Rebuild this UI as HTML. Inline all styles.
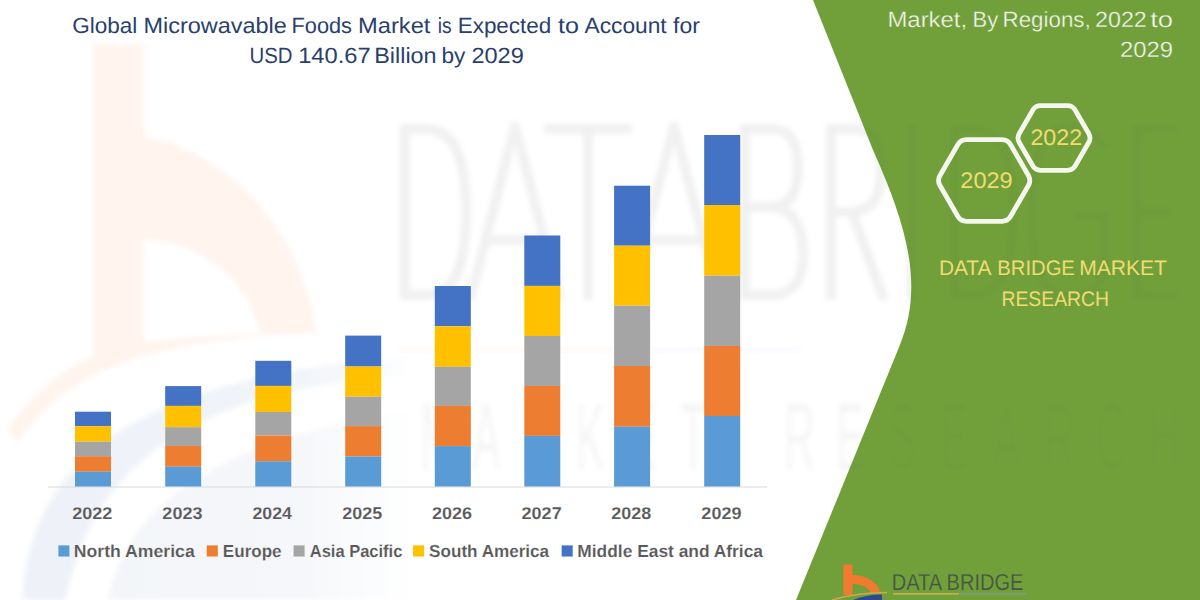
<!DOCTYPE html>
<html><head><meta charset="utf-8"><style>
html,body{margin:0;padding:0;width:1200px;height:600px;overflow:hidden;background:#fff;}
svg{position:absolute;left:0;top:0;display:block;}
text{font-family:"Liberation Sans",sans-serif;text-rendering:geometricPrecision;}
</style></head><body>
<svg width="1200" height="600" viewBox="0 0 1200 600">
<!-- watermark b logo -->
<defs><filter id="bl" x="-10%" y="-10%" width="120%" height="120%"><feGaussianBlur stdDeviation="2.5"/></filter>
<linearGradient id="bg1" x1="0" y1="0" x2="1" y2="0"><stop offset="0" stop-color="#EEF2F8"/><stop offset="0.7" stop-color="#F1F4F9"/><stop offset="1" stop-color="#F1F4F9" stop-opacity="0"/></linearGradient>
<linearGradient id="bg2" x1="0" y1="0" x2="1" y2="0"><stop offset="0" stop-color="#F3F5F9"/><stop offset="0.6" stop-color="#F5F7FA"/><stop offset="1" stop-color="#F5F7FA" stop-opacity="0"/></linearGradient>
</defs>
<g filter="url(#bl)">
<path d="M22 600 C28 480 110 395 330 365 L420 356 V374 L330 384 C150 412 85 500 66 600 Z" fill="url(#bg1)"/>
<path d="M108 600 C125 510 210 440 420 408 V600 Z" fill="url(#bg2)"/>
<path fill-rule="evenodd" d="M93 44 H144 V137 C222 150 300 222 316 333 C230 336 150 348 100 372 C65 390 38 412 18 442 L8 430 C25 400 55 375 93 356 Z M144 240 V342 C180 338 220 335 260 334 C250 282 205 243 144 240 Z" fill="#FFF4EE"/>
</g>
<defs><clipPath id="gp"><path d="M813 0 H1200 V600 H796 L899.5 346 C924 287 908 228 873 150 Z"/></clipPath></defs>
<g fill="none" stroke="#000" stroke-width="10" stroke-linejoin="round" stroke-opacity="0.055" filter="url(#bl)">
<path d="M405 124 V300 M405 129 H425 C458 129 466 165 466 212 C466 259 458 295 425 295 H405"/>
<path d="M470 300 L515 126 L560 300 M486 240 H544"/>
<path d="M544 129 H632 M588 129 V300"/>
<path d="M628 300 L674 126 L720 300 M644 240 H704"/>
<path d="M745 124 V300 M745 129 H772 C792 129 798 145 798 168 C798 192 790 207 768 207 H745 M768 207 C795 207 803 228 803 253 C803 280 795 295 770 295 H745"/>
<path d="M831 124 V300 M831 129 H855 C875 129 881 145 881 170 C881 198 872 212 850 212 H831 M852 212 L884 300"/>
<path d="M912 124 V300"/>
<path d="M955 124 V300 M955 129 H972 C1005 129 1013 165 1013 212 C1013 259 1005 295 972 295 H955"/>
<path d="M1105 150 C1095 133 1083 127 1068 127 C1042 127 1032 160 1032 212 C1032 265 1042 297 1068 297 C1088 297 1105 285 1105 260 V215 H1075"/>
<path d="M1137 124 V300 M1137 129 H1178 M1137 212 H1172 M1137 295 H1178"/>
</g>
<g filter="url(#bl)"><g transform="scale(0.45 1)" fill="#000" fill-opacity="0.04"><text x="933.3 1048.9 1164.4 1280.0 1395.6 1511.1 1742.2 1857.8 1973.3 2088.9 2204.4 2320.0 2435.6 2551.1" y="470" font-size="96" font-family="Liberation Sans">MARKETRESEARCH</text></g></g>
<path d="M813 0 H1200 V600 H796 L899.5 346 C924 287 908 228 873 150 Z" fill="#71A03B"/>
<g clip-path="url(#gp)"><g fill="none" stroke="#000" stroke-width="10" stroke-linejoin="round" stroke-opacity="0.022" filter="url(#bl)">
<path d="M405 124 V300 M405 129 H425 C458 129 466 165 466 212 C466 259 458 295 425 295 H405"/>
<path d="M470 300 L515 126 L560 300 M486 240 H544"/>
<path d="M544 129 H632 M588 129 V300"/>
<path d="M628 300 L674 126 L720 300 M644 240 H704"/>
<path d="M745 124 V300 M745 129 H772 C792 129 798 145 798 168 C798 192 790 207 768 207 H745 M768 207 C795 207 803 228 803 253 C803 280 795 295 770 295 H745"/>
<path d="M831 124 V300 M831 129 H855 C875 129 881 145 881 170 C881 198 872 212 850 212 H831 M852 212 L884 300"/>
<path d="M912 124 V300"/>
<path d="M955 124 V300 M955 129 H972 C1005 129 1013 165 1013 212 C1013 259 1005 295 972 295 H955"/>
<path d="M1105 150 C1095 133 1083 127 1068 127 C1042 127 1032 160 1032 212 C1032 265 1042 297 1068 297 C1088 297 1105 285 1105 260 V215 H1075"/>
<path d="M1137 124 V300 M1137 129 H1178 M1137 212 H1172 M1137 295 H1178"/>
</g>
<g filter="url(#bl)"><g transform="scale(0.45 1)" fill="#000" fill-opacity="0.02"><text x="933.3 1048.9 1164.4 1280.0 1395.6 1511.1 1742.2 1857.8 1973.3 2088.9 2204.4 2320.0 2435.6 2551.1" y="470" font-size="96" font-family="Liberation Sans">MARKETRESEARCH</text></g></g></g>
<rect x="400" y="348" width="220" height="4" fill="#ED7D31" opacity="0.06" filter="url(#bl)"/>
<rect x="620" y="348" width="180" height="4" fill="#4472C4" opacity="0.05" filter="url(#bl)"/>
<!-- chart -->
<line x1="48" y1="487" x2="767" y2="487" stroke="#D9D9D9" stroke-width="1"/>
<rect x="75" y="411.7" width="36" height="14.5" fill="#4472C4"/>
<rect x="75" y="426.2" width="36" height="15.5" fill="#FFC000"/>
<rect x="75" y="441.7" width="36" height="14.5" fill="#A5A5A5"/>
<rect x="75" y="456.2" width="36" height="15.5" fill="#ED7D31"/>
<rect x="75" y="471.7" width="36" height="14.8" fill="#5B9BD5"/>
<rect x="165.2" y="386.1" width="36" height="19.8" fill="#4472C4"/>
<rect x="165.2" y="405.9" width="36" height="21.3" fill="#FFC000"/>
<rect x="165.2" y="427.2" width="36" height="18.7" fill="#A5A5A5"/>
<rect x="165.2" y="445.9" width="36" height="20.8" fill="#ED7D31"/>
<rect x="165.2" y="466.7" width="36" height="19.8" fill="#5B9BD5"/>
<rect x="255.3" y="360.8" width="36" height="25.1" fill="#4472C4"/>
<rect x="255.3" y="385.9" width="36" height="26.1" fill="#FFC000"/>
<rect x="255.3" y="412" width="36" height="23.5" fill="#A5A5A5"/>
<rect x="255.3" y="435.5" width="36" height="25.8" fill="#ED7D31"/>
<rect x="255.3" y="461.3" width="36" height="25.2" fill="#5B9BD5"/>
<rect x="345.2" y="335.6" width="36" height="30.9" fill="#4472C4"/>
<rect x="345.2" y="366.5" width="36" height="30.2" fill="#FFC000"/>
<rect x="345.2" y="396.7" width="36" height="29.4" fill="#A5A5A5"/>
<rect x="345.2" y="426.1" width="36" height="30.4" fill="#ED7D31"/>
<rect x="345.2" y="456.5" width="36" height="30.0" fill="#5B9BD5"/>
<rect x="434.8" y="286" width="36" height="40.3" fill="#4472C4"/>
<rect x="434.8" y="326.3" width="36" height="40.5" fill="#FFC000"/>
<rect x="434.8" y="366.8" width="36" height="39.1" fill="#A5A5A5"/>
<rect x="434.8" y="405.9" width="36" height="40.2" fill="#ED7D31"/>
<rect x="434.8" y="446.1" width="36" height="40.4" fill="#5B9BD5"/>
<rect x="524.3" y="235.5" width="36" height="50.4" fill="#4472C4"/>
<rect x="524.3" y="285.9" width="36" height="50.1" fill="#FFC000"/>
<rect x="524.3" y="336" width="36" height="50" fill="#A5A5A5"/>
<rect x="524.3" y="386" width="36" height="49.9" fill="#ED7D31"/>
<rect x="524.3" y="435.9" width="36" height="50.6" fill="#5B9BD5"/>
<rect x="614.1" y="185.7" width="36" height="60.0" fill="#4472C4"/>
<rect x="614.1" y="245.7" width="36" height="60.0" fill="#FFC000"/>
<rect x="614.1" y="305.7" width="36" height="60.3" fill="#A5A5A5"/>
<rect x="614.1" y="366" width="36" height="60.7" fill="#ED7D31"/>
<rect x="614.1" y="426.7" width="36" height="59.8" fill="#5B9BD5"/>
<rect x="704.2" y="135" width="36" height="70" fill="#4472C4"/>
<rect x="704.2" y="205" width="36" height="70.7" fill="#FFC000"/>
<rect x="704.2" y="275.7" width="36" height="70.3" fill="#A5A5A5"/>
<rect x="704.2" y="346" width="36" height="70" fill="#ED7D31"/>
<rect x="704.2" y="416" width="36" height="70.5" fill="#5B9BD5"/>
<g fill="#595959" stroke="#fff" stroke-width="0.12" font-weight="bold" font-size="17">
<text x="72.17" y="518.5" font-size="17" textLength="40.15" lengthAdjust="spacingAndGlyphs">2022</text>
<text x="162.38" y="518.5" font-size="17" textLength="40.08" lengthAdjust="spacingAndGlyphs">2023</text>
<text x="252.48" y="518.5" font-size="17" textLength="39.51" lengthAdjust="spacingAndGlyphs">2024</text>
<text x="342.38" y="518.5" font-size="17" textLength="39.92" lengthAdjust="spacingAndGlyphs">2025</text>
<text x="431.98" y="518.5" font-size="17" textLength="40.08" lengthAdjust="spacingAndGlyphs">2026</text>
<text x="521.47" y="518.5" font-size="17" textLength="40.22" lengthAdjust="spacingAndGlyphs">2027</text>
<text x="611.28" y="518.5" font-size="17" textLength="39.98" lengthAdjust="spacingAndGlyphs">2028</text>
<text x="701.38" y="518.5" font-size="17" textLength="40.09" lengthAdjust="spacingAndGlyphs">2029</text>
<rect x="58.3" y="545.3" width="11.2" height="11.3" fill="#5B9BD5"/>
<text x="73.83" y="556.8" font-size="17.4" textLength="120.86" lengthAdjust="spacingAndGlyphs">North America</text>
<rect x="206.7" y="545.3" width="11.2" height="11.3" fill="#ED7D31"/>
<text x="222.86" y="556.8" font-size="17.4" textLength="58.72" lengthAdjust="spacingAndGlyphs">Europe</text>
<rect x="293.5" y="545.3" width="11.2" height="11.3" fill="#A5A5A5"/>
<text x="309.79" y="556.8" font-size="17.4" textLength="92.59" lengthAdjust="spacingAndGlyphs">Asia Pacific</text>
<rect x="413" y="545.3" width="11.2" height="11.3" fill="#FFC000"/>
<text x="429.11" y="556.8" font-size="17.4" textLength="120.03" lengthAdjust="spacingAndGlyphs">South America</text>
<rect x="561.6" y="545.3" width="11.2" height="11.3" fill="#4472C4"/>
<text x="577.34" y="556.8" font-size="17.4" textLength="185.65" lengthAdjust="spacingAndGlyphs">Middle East and Africa</text>
</g>
<!-- title -->
<g fill="#2A3F6C" font-size="22">
<text x="72.17" y="32.6" font-size="22" textLength="65.14" lengthAdjust="spacingAndGlyphs">Global</text>
<text x="143.48" y="32.6" font-size="22" textLength="143.37" lengthAdjust="spacingAndGlyphs">Microwavable</text>
<text x="291.51" y="32.6" font-size="22" textLength="60.52" lengthAdjust="spacingAndGlyphs">Foods</text>
<text x="358.06" y="32.6" font-size="22" textLength="72.42" lengthAdjust="spacingAndGlyphs">Market</text>
<text x="437.71" y="32.6" font-size="22" textLength="13.88" lengthAdjust="spacingAndGlyphs">is</text>
<text x="457.66" y="32.6" font-size="22" textLength="93.69" lengthAdjust="spacingAndGlyphs">Expected</text>
<text x="558.12" y="32.6" font-size="22" textLength="20.93" lengthAdjust="spacingAndGlyphs">to</text>
<text x="584.46" y="32.6" font-size="22" textLength="82.21" lengthAdjust="spacingAndGlyphs">Account</text>
<text x="673.07" y="32.6" font-size="22" textLength="26.81" lengthAdjust="spacingAndGlyphs">for</text>
<text x="249.43" y="62.6" font-size="22" textLength="43.05" lengthAdjust="spacingAndGlyphs">USD</text>
<text x="298.19" y="62.6" font-size="22" textLength="72.50" lengthAdjust="spacingAndGlyphs">140.67</text>
<text x="374.18" y="62.6" font-size="22" textLength="62.44" lengthAdjust="spacingAndGlyphs">Billion</text>
<text x="441.54" y="62.6" font-size="22" textLength="23.90" lengthAdjust="spacingAndGlyphs">by</text>
<text x="471.42" y="62.6" font-size="22" textLength="52.40" lengthAdjust="spacingAndGlyphs">2029</text>
</g>
<!-- right panel text -->
<g fill="#F4F6EC" stroke="#71A03B" stroke-width="0.3" font-size="22">
<text x="887.44" y="26.7" font-size="22" textLength="79.71" lengthAdjust="spacingAndGlyphs">Market,</text>
<text x="972.60" y="26.7" font-size="22" textLength="25.54" lengthAdjust="spacingAndGlyphs">By</text>
<text x="1002.57" y="26.7" font-size="22" textLength="88.19" lengthAdjust="spacingAndGlyphs">Regions,</text>
<text x="1095.08" y="26.7" font-size="22" textLength="51.69" lengthAdjust="spacingAndGlyphs">2022</text>
<text x="1150.18" y="26.7" font-size="22" textLength="22.87" lengthAdjust="spacingAndGlyphs">to</text>
<text x="1120.10" y="57.3" font-size="22" textLength="53.03" lengthAdjust="spacingAndGlyphs">2029</text>
</g>
<g fill="none" stroke="#F5F7EE" stroke-width="4.8" stroke-linejoin="round">
<path d="M1019.30 133.50 L1032.75 110.20 Q1035.35 105.70 1040.55 105.70 L1067.45 105.70 Q1072.65 105.70 1075.25 110.20 L1088.70 133.50 Q1091.30 138.00 1088.70 142.50 L1075.25 165.80 Q1072.65 170.30 1067.45 170.30 L1040.55 170.30 Q1035.35 170.30 1032.75 165.80 L1019.30 142.50 Q1016.70 138.00 1019.30 133.50 Z"/>
<path d="M939.99 175.50 L957.76 144.71 Q960.65 139.71 966.42 139.71 L1001.98 139.71 Q1007.75 139.71 1010.64 144.71 L1028.41 175.50 Q1031.30 180.50 1028.41 185.50 L1010.64 216.29 Q1007.75 221.29 1001.98 221.29 L966.42 221.29 Q960.65 221.29 957.76 216.29 L939.99 185.50 Q937.10 180.50 939.99 175.50 Z"/>
</g>
<g fill="#F0DC70" font-size="22">
<text x="1030.43" y="144.9" font-size="22.5" textLength="51.74" lengthAdjust="spacingAndGlyphs">2022</text>
<text x="960.32" y="187.8" font-size="22.5" textLength="52.30" lengthAdjust="spacingAndGlyphs">2029</text>
<text x="938.88" y="275.4" font-size="21" textLength="52.66" lengthAdjust="spacingAndGlyphs">DATA</text>
<text x="997.34" y="275.4" font-size="21" textLength="77.53" lengthAdjust="spacingAndGlyphs">BRIDGE</text>
<text x="1079.27" y="275.4" font-size="21" textLength="87.71" lengthAdjust="spacingAndGlyphs">MARKET</text>
<text x="1001.41" y="305.8" font-size="21" textLength="107.67" lengthAdjust="spacingAndGlyphs">RESEARCH</text>
</g>
<!-- bottom logo -->
<path d="M843.4 564.4 H852.4 V575 C866 575 878 582 880.5 593 L871.5 593 C868 587 861 584 852.4 584 V595 H843.4 Z" fill="#F07A30"/>
<path d="M853 600 Q866 594.5 882 594.5 V600 Z" fill="#2C4B8E"/>
<path d="M832 600 Q856 592.5 887 592.5" fill="none" stroke="#D5A650" stroke-width="1.6"/>
<text x="891.71" y="589.8" font-size="23" textLength="131.73" lengthAdjust="spacingAndGlyphs" fill="#475543" stroke="#71A03B" stroke-width="0.2">DATA BRIDGE</text>
<rect x="893" y="593" width="66" height="1.6" fill="#C8B050"/>
<rect x="959" y="593" width="67" height="1.6" fill="#7F9A80"/>
</svg>
</body></html>
